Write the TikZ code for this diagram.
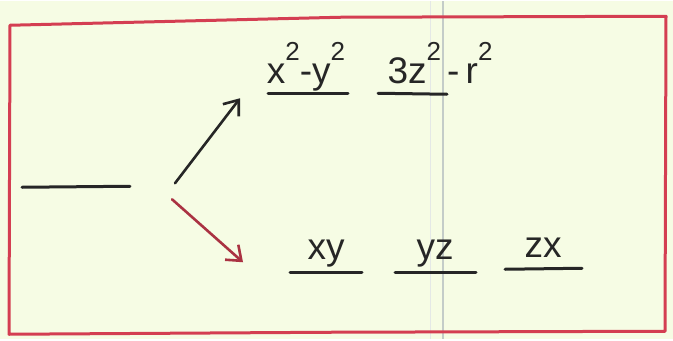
\documentclass[tikz,border=0pt]{standalone}
\usepackage{fontspec}
\setmainfont{Liberation Sans}
\usetikzlibrary{arrows.meta}
\definecolor{papel}{RGB}{246,252,228}
\definecolor{rojo}{RGB}{212,62,82}
\definecolor{tinta}{RGB}{38,38,38}
\definecolor{pliegue}{RGB}{196,204,200}
\newcommand{\sq}{\raisebox{0.62em}{\fontsize{26}{28}\selectfont 2}}

\begin{document}
\begin{tikzpicture}
  [x=1pt,y=-1pt,every node/.style={inner sep=0pt,font=\fontsize{37}{39}\selectfont,text=tinta},
   nivel/.style={draw=tinta,line width=3pt,line cap=round},
   flecha/.style={line width=2.6pt,line cap=round,-{Straight Barb[length=13pt,width=20pt]}}]

  % Fondo, pliegue del papel y marco
  \fill[papel] (0,0) rectangle (673,338);
  \draw[pliegue!45,line width=1pt] (430,0) -- (430,338);
  \draw[pliegue,line width=2.5pt] (443,0) -- (443,338);
  \draw[rojo,line width=3pt,line join=round]
    (10,24) -- (340,16) -- (666,15) -- (665,330) -- (330,331) -- (9,333) -- cycle;

  % Nivel inicial
  \coordinate (a1) at (22,186);
  \coordinate (a2) at (130,185);

  % Niveles superiores
  \coordinate (e1) at (268,92);
  \coordinate (e2) at (348,92);
  \coordinate (e3) at (378,92);
  \coordinate (e4) at (447,93);

  % Niveles inferiores
  \coordinate (t1) at (290,271);
  \coordinate (t2) at (362,271);
  \coordinate (t3) at (395,271);
  \coordinate (t4) at (476,271);
  \coordinate (t5) at (505,268);
  \coordinate (t6) at (582,267);

  \foreach \from/\to in {a1/a2, e1/e2, e3/e4, t1/t2, t3/t4, t5/t6}
    \draw[nivel] (\from) -- (\to);

  % Etiquetas de los orbitales
  \node[anchor=base] (lx2) at (306,82) {x\sq-y\sq};
  \node[anchor=base] (lz2) at (440,82) {3z\sq\,-\,r\sq};
  \node[anchor=base] (lxy) at (326,258) {xy};
  \node[anchor=base] (lyz) at (435,258) {yz};
  \node[anchor=base] (lzx) at (543,256) {zx};

  % Flechas del desdoblamiento
  \coordinate (s0) at (175,182);
  \coordinate (s1) at (240,97);
  \coordinate (b0) at (172,198);
  \coordinate (b1) at (243,261);
  \draw[flecha,draw=tinta] (s0) -- (s1);
  \draw[flecha,draw=rojo!80!black] (b0) -- (b1);

\end{tikzpicture}
\end{document}
